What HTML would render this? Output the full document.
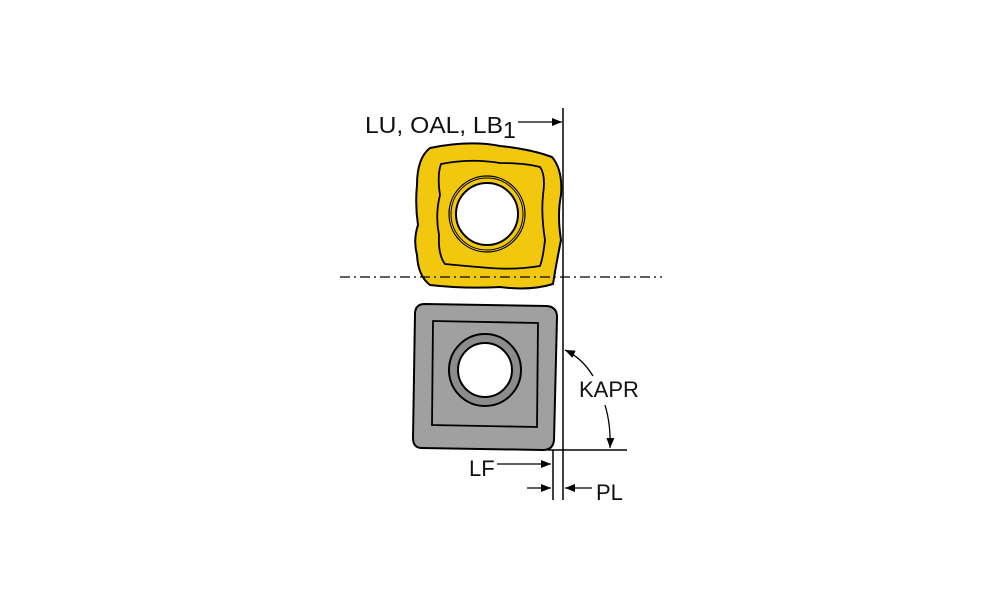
<!DOCTYPE html>
<html><head><style>body{margin:0;background:#fff}svg{display:block}text{font-family:"Liberation Sans",Arial,sans-serif;fill:#111}</style></head><body>
<svg width="1000" height="611" viewBox="0 0 1000 611">
<defs><marker id="a" markerWidth="10" markerHeight="8" refX="10" refY="4" orient="auto" markerUnits="userSpaceOnUse"><path d="M0,0L10,4L0,8z" fill="#000"/></marker></defs>
<!-- yellow insert -->
<path d="M430,148 Q470,140 500,146 Q530,149 552,157 Q563,170 561,195 Q557,215 561,240 Q556,265 553,284 Q530,291 500,287 Q465,289 430,285 Q418,276 417,255 Q413,240 418,225 Q415,205 417,185 Q417,158 430,148z" fill="#f2c80f" stroke="#000" stroke-width="2"/>
<path d="M441,164 Q470,158 500,163 Q525,163 540,167 Q546,175 543,195 Q541,215 545,240 Q543,258 540,266 Q515,270 490,268 Q465,266 445,264 Q438,255 439,235 Q435,215 440,195 Q437,175 441,164z" fill="none" stroke="#000" stroke-width="1.8"/>
<circle cx="487" cy="214" r="38" fill="none" stroke="#000" stroke-width="1.2"/>
<circle cx="487" cy="214" r="36" fill="none" stroke="#000" stroke-width="1"/>
<circle cx="487" cy="214" r="31" fill="#fff" stroke="#000" stroke-width="2"/>
<line x1="340" y1="277" x2="662" y2="277" stroke="#000" stroke-width="1.2" stroke-dasharray="10,4,2,4"/>
<!-- gray insert -->
<path d="M425,304 L547,306 Q557,307 557,317 L554,440 Q553,450 543,450 L422,448 Q413,448 413,438 L415,314 Q415,304 425,304z" fill="#a0a0a0" stroke="#000" stroke-width="2"/>
<path d="M433,321 L538,323 L537,427 L432,425z" fill="none" stroke="#000" stroke-width="1.8"/>
<circle cx="485" cy="370" r="36" fill="#8c8c8c" stroke="#000" stroke-width="2"/>
<circle cx="485" cy="370" r="27" fill="#fff" stroke="#000" stroke-width="2"/>
<!-- lines -->
<line x1="563" y1="108" x2="563" y2="500" stroke="#000" stroke-width="1.5"/>
<line x1="553" y1="450" x2="553" y2="500" stroke="#000" stroke-width="1.5"/>
<line x1="548" y1="450" x2="627" y2="450" stroke="#000" stroke-width="1.5"/>
<line x1="518" y1="122" x2="562" y2="122" stroke="#000" stroke-width="1.3" marker-end="url(#a)"/>
<line x1="497" y1="464" x2="551" y2="464" stroke="#000" stroke-width="1.3" marker-end="url(#a)"/>
<line x1="527" y1="488" x2="551" y2="488" stroke="#000" stroke-width="1.3" marker-end="url(#a)"/>
<line x1="592" y1="488" x2="565" y2="488" stroke="#000" stroke-width="1.3" marker-end="url(#a)"/>
<path d="M593,376 Q582,358 565,350" fill="none" stroke="#000" stroke-width="1.3" marker-end="url(#a)"/>
<path d="M605,405 Q611,425 610,448" fill="none" stroke="#000" stroke-width="1.3" marker-end="url(#a)"/>
<text x="365" y="133" font-size="23" textLength="138" lengthAdjust="spacingAndGlyphs">LU, OAL, LB</text>
<text x="503" y="138" font-size="23">1</text>
<text x="579" y="397" font-size="22">KAPR</text>
<text x="469" y="476" font-size="22">LF</text>
<text x="596" y="500" font-size="22">PL</text>
</svg>
</body></html>
